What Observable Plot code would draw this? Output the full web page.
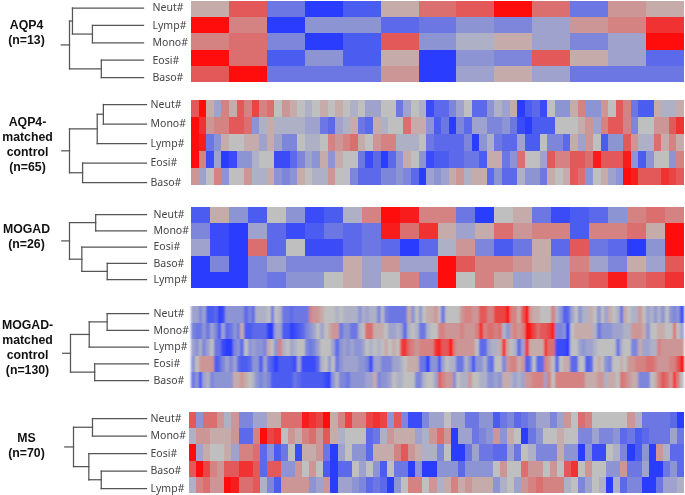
<!DOCTYPE html>
<html>
<head>
<meta charset="utf-8">
<script src="https://cdn.jsdelivr.net/npm/d3@7"></script>
<script src="https://cdn.jsdelivr.net/npm/@observablehq/plot@0.6"></script>
<style>
  html, body { margin: 0; padding: 0; background: #fff; }
  #page { position: relative; width: 685px; height: 495px; overflow: hidden; }
  #page svg { position: absolute; left: 0; background: transparent; }
</style>
</head>
<body>
<svg width="0" height="0" style="position:absolute">
  <filter id="soft3" x="-2%" y="-5%" width="104%" height="110%"><feGaussianBlur stdDeviation="0.35 0.35"/></filter>
  <filter id="soft6" x="-2%" y="-5%" width="104%" height="110%"><feGaussianBlur stdDeviation="0.7 0.35"/></filter>
  <filter id="soft9" x="-2%" y="-5%" width="104%" height="110%"><feGaussianBlur stdDeviation="1.0 0.35"/></filter>
</svg>
<div id="page"></div>
<script>
// ---- values: scaled z-score of each cell, -9 (blue) .. 0 (gray) .. 9 (red) ----
const aqp4Neut = [1,5,-5,-9,-7,1,4,5,9,4,-5,2,1];
const aqp4Lymp = [9,3,-9,-3,-3,-6,-5,-3,-4,-2,2,3,7];
const aqp4Mono = [3,4,-4,-9,-7,5,-3,-1,1,-2,-4,-2,9];
const aqp4Eosi = [9,4,-7,-3,-7,1,-9,-3,-4,5,1,-2,-6];
const aqp4Baso = [5,9,-5,-5,-5,2,-9,-2,1,-2,-5,-5,-5];

const aqp4cNeut = [5,9,1,-2,3,1,5,3,6,3,4,0,2,1,0,-1,0,1,0,1,0,-1,0,-2,-2,0,0,-5,-2,0,-1,-8,-6,
  -6,-4,-2,0,-6,-6,-3,-1,-2,1,-9,-7,-6,-8,0,-3,-3,1,3,-3,-3,2,0,5,3,-5,-7,-7,1,-1,-1,1];
const aqp4cMono = [9,7,2,3,3,5,5,4,-3,-1,1,-1,-1,-1,-1,-2,-2,-5,-6,-2,-1,1,-5,-6,1,-1,0,0,4,1,1,-3,-7,
  -5,-9,-4,-6,-2,-2,-4,-4,-3,-5,-8,-9,-7,-7,-7,0,0,0,1,2,-2,3,5,5,3,-4,0,0,2,2,5,7];
const aqp4cLymp = [9,8,-5,-3,1,0,0,1,1,-2,1,-2,-4,-4,0,-1,-1,0,3,2,3,4,1,0,2,3,3,-1,-1,-1,0,-5,-6,
  -6,-6,-6,-4,-9,-3,-1,-5,-6,-6,-2,-7,-7,0,-4,-4,-6,1,-2,2,0,-7,-3,-3,5,2,-1,-1,4,1,3,1];
const aqp4cEosi = [9,3,-8,-2,-9,-8,-3,-3,-1,0,0,-8,-8,-6,-4,-2,-3,1,-3,1,0,0,-5,-8,-6,-9,-6,-3,1,0,-3,-8,-7,
  -7,-6,-6,-5,-5,-7,1,1,-5,-3,4,0,0,-2,5,3,3,5,5,4,8,5,5,5,8,-3,-7,-3,0,0,-3,3];
const aqp4cBaso = [2,-2,0,3,-3,0,0,2,-1,-1,1,-3,-4,-3,1,0,-1,-1,2,0,0,-4,-6,-6,-6,-4,-4,-3,-4,-6,-9,-2,-3,
  -2,1,2,-1,1,1,-6,-3,-6,-6,-1,-3,-3,-5,1,0,1,5,4,-3,0,1,-2,-3,9,8,5,5,5,7,6,5];

const mogNeut = [-7,1,-3,-7,0,-3,-8,-7,-1,3,9,8,3,3,-5,-9,0,1,-5,-8,-7,-6,-3,3,4,3];
const mogMono = [-4,-8,-9,-2,-6,-8,-7,-5,-6,-5,8,4,7,1,-2,1,4,2,3,3,-7,3,3,4,1,9];
const mogEosi = [-2,-8,-9,4,-6,0,-8,-8,-6,-5,-6,-9,-6,-1,2,-4,-7,-5,1,-6,5,-5,-6,-9,-3,9];
const mogBaso = [-9,-4,-9,-4,-2,-4,-4,-4,1,-2,2,-2,-2,9,5,3,3,2,1,-2,3,-2,-4,1,-2,5];
const mogLymp = [-9,-9,-9,-4,-5,-3,-3,0,1,-2,0,3,-4,9,0,3,1,-2,-1,-2,4,5,8,4,5,7];

const mogcNeut = [-2,-2,-4,-2,-7,-7,-6,-9,-8,-3,-3,-3,-3,-3,-6,-4,-6,-1,-1,-1,0,-5,0,-1,-5,-5,-6,-5,-5,-5,-5,3,2,2,1,0,0,0,-1,0,-1,-1,-1,-1,
  -3,-1,-2,-1,-1,-4,0,-4,-5,-5,-5,-5,-5,1,-3,0,-3,0,1,1,2,0,-5,0,0,0,0,2,3,3,2,2,5,5,3,3,6,6,6,9,3,3,1,
  5,9,2,1,1,0,0,0,3,-1,-3,-7,-6,-2,0,-3,-1,-1,1,0,-3,0,-2,1,0,-1,-6,1,0,-1,-1,2,0,-2,-1,-3,-1,-3,0,-3,-4,-3,-8];
const mogcMono = [-4,-5,-5,-3,-5,-2,-4,-8,-2,-6,-5,-3,-5,1,-7,-7,-6,-6,-6,-6,-9,-9,-2,-2,-7,-7,-9,-8,-7,-6,-4,-3,-2,0,-2,0,1,2,2,-5,-3,-3,-5,-5,
  -1,0,4,4,1,1,1,0,-2,-2,-1,-2,-6,-1,0,-1,-5,-5,-1,0,0,3,3,2,2,2,2,3,2,2,2,3,7,3,4,4,3,4,-1,-3,2,3,2,
  3,9,8,6,4,5,5,6,8,-4,-4,-3,-9,0,1,1,1,1,1,-1,-5,-3,-3,-3,-2,-2,-2,-1,-1,2,2,2,1,-3,0,0,1,1,0,0,4,0,-2];
const mogcLymp = [-2,-3,-1,-4,-2,0,-5,-5,-8,-9,-9,-4,-3,-6,0,-3,-2,-3,-3,-4,1,0,-3,3,-1,0,-2,-1,0,0,-4,-5,-4,-2,0,0,0,-2,-6,-3,-2,-3,-2,-3,
  -3,-2,0,-1,0,-1,0,1,0,1,0,6,7,4,3,2,3,3,3,3,7,8,5,5,9,3,2,2,2,2,2,0,-6,-6,-2,-1,-1,1,7,1,0,-1,-6,
  -2,7,1,1,1,1,8,4,4,-8,-8,-8,-9,0,0,-2,-3,-2,-2,-1,0,0,0,0,0,-5,-1,0,0,-4,-4,1,-2,-2,-1,-1,3,2,2,2,2,2,2];
const mogcEosi = [-3,0,2,2,2,2,-7,-6,-4,-2,-4,-2,-6,-7,-7,-6,-3,-3,-7,-2,-6,-7,-9,-7,-7,-7,-7,-8,-2,-8,-8,-8,-8,-6,-1,0,-3,0,-5,-3,-2,-2,-2,-2,
  -3,-3,-4,-8,-2,-2,-4,-4,-4,-2,-2,-1,0,1,1,1,-5,-5,-9,-3,-3,-8,-2,0,-1,-1,-5,-5,-1,-3,-8,-3,-3,-1,-5,-6,0,0,-4,2,3,3,1,
  2,-7,-5,0,-6,-6,3,2,0,-6,0,1,1,-6,-6,0,0,-7,-6,0,1,0,-3,-4,0,0,1,0,2,2,3,3,3,4,4,3,2,2,2,3,3,5,9];
const mogcBaso = [-5,-3,-8,-2,-1,-4,-3,-3,-3,-3,-3,1,1,2,1,0,-1,-3,-4,-3,-4,-7,-7,-7,-7,-7,-7,-5,-6,-7,-7,-7,-7,-7,-7,-8,-9,-3,-1,-4,-4,-5,-3,-3,
  -3,-3,-2,-2,1,-4,-3,-3,-2,0,-1,-1,0,0,0,-4,-4,-1,0,0,-2,5,3,2,2,-4,0,-1,-1,2,0,0,-1,-1,-3,-3,-2,-3,1,1,-1,-2,-1,
  -2,2,2,3,3,3,-2,3,0,3,3,3,3,3,3,3,3,1,1,1,2,2,-1,1,1,0,4,3,2,1,1,-4,-4,-4,0,1,3,5,4,2,9,3,0];

const msNeut = [5,-3,4,4,2,-1,2,-4,-4,-2,-2,1,1,4,4,4,8,7,6,9,1,3,6,3,3,6,7,6,-3,5,-4,-8,-8,-4,-2,
  -2,0,-2,-2,-5,-5,-3,-3,-7,-5,-4,-6,-5,-4,-2,-2,-4,-2,2,0,4,3,0,0,0,0,0,2,-1,-5,-5,-5,-5,-6,-9];
const msMono = [-1,2,2,1,1,1,2,-6,-6,3,9,6,7,0,2,1,3,4,2,5,1,-1,0,0,0,-6,-5,-1,2,1,1,1,-2,-1,2,
  4,2,-9,-2,-2,-5,-4,-3,2,-3,1,0,-9,-5,-3,0,0,1,0,0,-4,-4,-2,-4,-4,-3,-6,-5,-7,-6,-5,-5,-5,-2,-5];
const msEosi = [9,-2,1,0,0,1,-2,3,3,4,-6,-3,-7,-5,0,-8,1,1,2,-5,-9,-2,0,-3,-3,-6,1,1,1,3,5,2,1,-1,-1,
  -4,0,-9,-9,-5,-2,-5,-5,-6,-6,-2,-5,0,-1,-4,-4,-4,1,-3,-3,-9,-3,-8,-8,0,-1,-4,-9,-7,-3,-9,2,-1,-6,-6];
const msBaso = [5,9,6,3,2,5,5,7,7,5,-6,5,5,-3,-3,2,0,2,0,-7,-9,-6,-6,0,-2,0,-3,-7,0,-5,-5,-9,-3,-9,-9,
  -3,-3,-3,-6,-3,-3,-3,-3,0,2,0,0,4,2,2,0,2,0,5,7,0,2,0,0,-3,-3,2,-5,-5,-2,-9,-9,-5,-3,-6];
const msLymp = [-1,3,4,2,2,9,8,4,4,5,-1,-4,-7,2,2,2,2,-3,-2,2,-9,-2,-2,-3,-4,-6,-5,-6,-9,-3,0,3,3,0,2,
  -1,1,3,1,2,1,1,1,-3,-1,0,-2,2,3,4,3,3,3,-1,0,-4,-2,0,-1,-9,-1,-6,-4,-4,-9,-9,-5,-2,-2,-1];

// ---- dendrograms: [merge height, left child, right child]; root height is 1 ----
const aqp4Tree  = [1, [.96, "Neut#", [.69, "Lymp#", "Mono#"]], [.57, "Eosi#", "Baso#"]];
const aqp4cTree = [1, [.64, [.56, "Neut#", "Mono#"], "Lymp#"], [.83, "Eosi#", "Baso#"]];
const mogTree   = [1, [.66, "Neut#", "Mono#"], [.84, "Eosi#", [.51, "Baso#", "Lymp#"]]];
const mogcTree  = [1, [.76, [.53, "Neut#", "Mono#"], "Lymp#"], [.69, "Eosi#", "Baso#"]];
const msTree    = [1, [.74, "Neut#", "Mono#"], [.79, "Eosi#", [.62, "Baso#", "Lymp#"]]];

const aqp4Rows  = {"Neut#": aqp4Neut, "Lymp#": aqp4Lymp, "Mono#": aqp4Mono, "Eosi#": aqp4Eosi, "Baso#": aqp4Baso};
const aqp4cRows = {"Neut#": aqp4cNeut, "Mono#": aqp4cMono, "Lymp#": aqp4cLymp, "Eosi#": aqp4cEosi, "Baso#": aqp4cBaso};
const mogRows   = {"Neut#": mogNeut, "Mono#": mogMono, "Eosi#": mogEosi, "Baso#": mogBaso, "Lymp#": mogLymp};
const mogcRows  = {"Neut#": mogcNeut, "Mono#": mogcMono, "Lymp#": mogcLymp, "Eosi#": mogcEosi, "Baso#": mogcBaso};
const msRows    = {"Neut#": msNeut, "Mono#": msMono, "Eosi#": msEosi, "Baso#": msBaso, "Lymp#": msLymp};

// ---- layout, in page pixels ----
const panels = [
  {title: "AQP4\n(n=13)", rows: aqp4Rows, tree: aqp4Tree, stub: 1.11, heat: [1, 82], left: 191, soft: "soft3",
   leaf: [7.5, 77], dendro: [143, 69], label: 152, tx: 26, ty: 31.5},
  {title: "AQP4-\nmatched\ncontrol\n(n=65)", rows: aqp4cRows, tree: aqp4cTree, stub: 1.10, heat: [99.5, 184.5], left: 191, soft: "soft6",
   leaf: [104, 182], dendro: [146, 69], label: 150, tx: 27, ty: 143},
  {title: "MOGAD\n(n=26)", rows: mogRows, tree: mogTree, stub: 1.10, heat: [207, 288], left: 191, soft: "soft3",
   leaf: [214, 279], dendro: [146, 69], label: 153, tx: 26, ty: 235},
  {title: "MOGAD-\nmatched\ncontrol\n(n=130)", rows: mogcRows, tree: mogcTree, stub: 1.10, heat: [305.5, 388], left: 191, soft: "soft9",
   leaf: [313, 380], dendro: [148, 70], label: 153, tx: 27, ty: 346},
  {title: "MS\n(n=70)", rows: msRows, tree: msTree, stub: 1.12, heat: [412, 493], left: 189, soft: "soft6",
   leaf: [418, 488], dendro: [146, 73], label: 150, tx: 26, ty: 444}
];

const page = document.getElementById("page");
const W = 685;

function treeSegments(tree, leaves) {
  const segs = [];
  (function walk(node) {
    if (typeof node === "string") return {h: 0, y: leaves.indexOf(node)};
    const [h, a, b] = node;
    const l = walk(a), r = walk(b);
    segs.push({h1: l.h, h2: h, y1: l.y, y2: l.y});
    segs.push({h1: r.h, h2: h, y1: r.y, y2: r.y});
    segs.push({h1: h, h2: h, y1: l.y, y2: r.y});
    return {h, y: (l.y + r.y) / 2};
  })(tree);
  return segs;
}

for (const p of panels) {
  const leaves = Object.keys(p.rows);
  const n = p.rows[leaves[0]].length;
  const cells = leaves.flatMap(r => p.rows[r].map((v, i) => ({row: r, col: i, v})));

  // heat map
  const heat = Plot.plot({
    width: W, height: p.heat[1] - p.heat[0],
    marginLeft: p.left, marginRight: 1, marginTop: 0, marginBottom: 0,
    style: {background: "transparent"},
    x: {type: "band", domain: d3.range(n), padding: 0, round: false, axis: null},
    y: {type: "band", domain: leaves, padding: 0, round: false, axis: null},
    color: {type: "linear", domain: [-9, 0, 9], range: ["#2a3eff", "#bfbfbf", "#ff0808"]},
    marks: [
      Plot.cell(cells, {x: "col", y: "row", fill: "v", inset: 0, shapeRendering: "crispEdges"})
    ]
  });
  heat.style.top = p.heat[0] + "px";
  heat.style.filter = `url(#${p.soft})`;
  page.appendChild(heat);

  // dendrogram, leaf labels and panel title
  const boxTop = Math.max(0, Math.floor(p.leaf[0]) - 28);
  const boxH = Math.ceil(p.leaf[1]) + 14 - boxTop;
  const segs = treeSegments(p.tree, leaves);
  const last = segs[segs.length - 1];
  const rootY = (last.y1 + last.y2) / 2;
  const dendro = Plot.plot({
    width: 191, height: boxH,
    marginLeft: 0, marginRight: 191 - p.label, marginTop: 0, marginBottom: 0,
    style: {background: "transparent", overflow: "visible"},
    x: {domain: [0, 1], range: p.dendro, axis: null},
    y: {domain: [0, leaves.length - 1], range: [p.leaf[0] - boxTop, p.leaf[1] - boxTop], axis: null},
    marks: [
      Plot.link(segs.concat([{h1: 1, h2: p.stub, y1: rootY, y2: rootY}]), {
        x1: "h1", x2: "h2", y1: "y1", y2: "y2",
        stroke: "#555", strokeWidth: 1.25, strokeLinecap: "square"
      }),
      Plot.axisY(d3.range(leaves.length), {
        anchor: "right", tickSize: 0, tickPadding: 0,
        tickFormat: i => leaves[i],
        textAnchor: "start", fontSize: 10.5, fontFamily: "Noto Sans", fill: "#444", label: null
      }),
      Plot.text([p.title], {
        text: d => d, frameAnchor: "top-left", dx: p.tx, dy: p.ty - boxTop,
        textAnchor: "middle", lineAnchor: "middle", lineHeight: 1.23,
        fontFamily: "Liberation Sans", fontWeight: "bold", fontSize: 12.3, fill: "#111"
      })
    ]
  });
  dendro.style.top = boxTop + "px";
  dendro.style.filter = "blur(0.3px)";
  page.appendChild(dendro);
}
</script>
</body>
</html>
